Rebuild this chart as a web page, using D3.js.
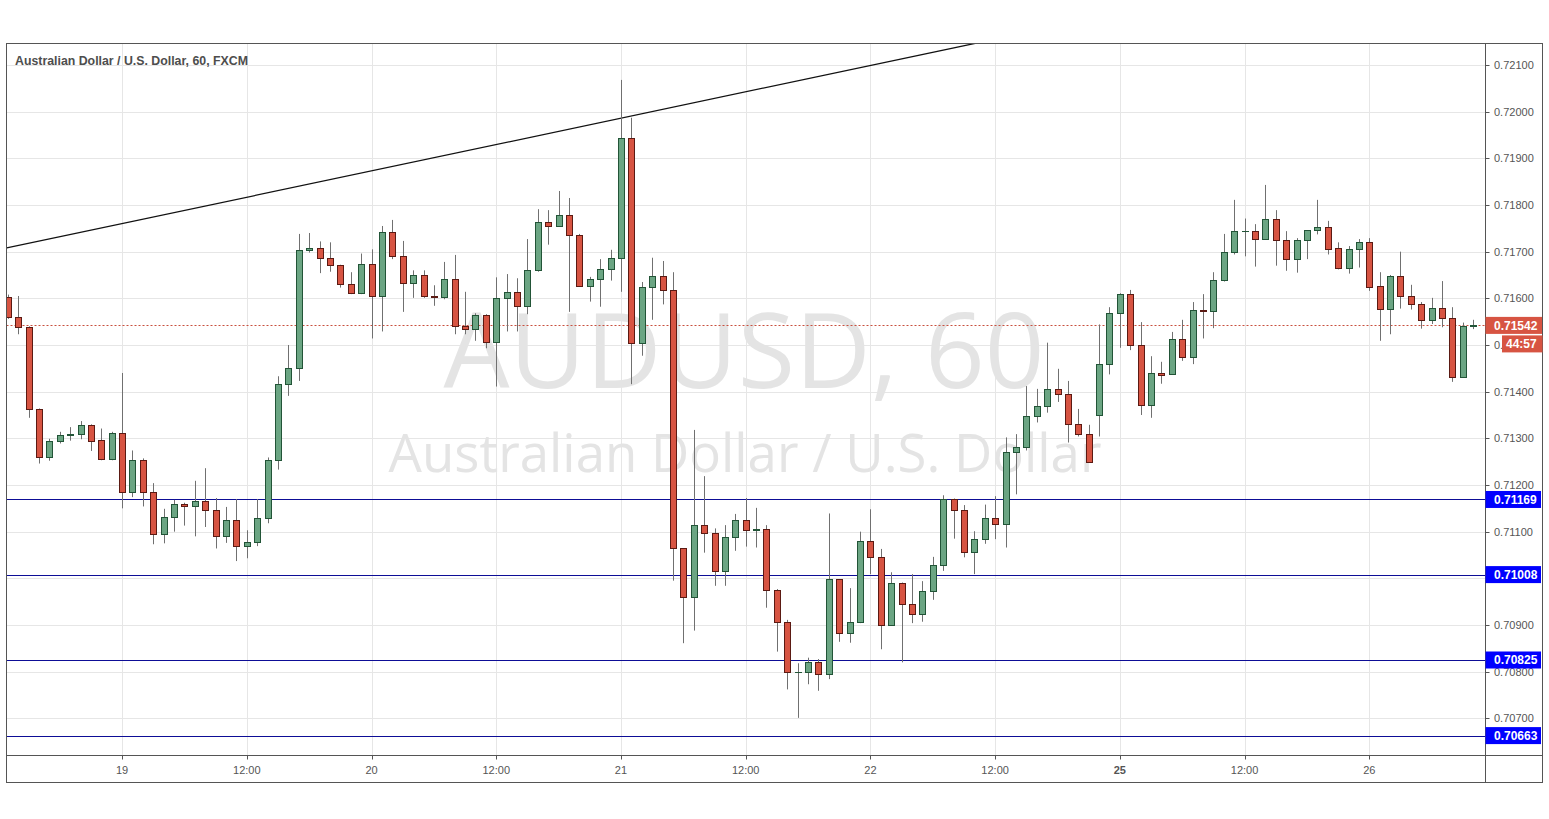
<!DOCTYPE html>
<html>
<head>
<meta charset="utf-8">
<script src="https://cdn.jsdelivr.net/npm/d3@7"></script>
<style>
  html, body { margin: 0; padding: 0; background: #ffffff; }
  svg { display: block; }
</style>
</head>
<body>
<svg id="chart" width="1549" height="819"></svg>
<script>
// ---------------- DATA ----------------
// hourly bars, bar index 0 = "19" 00:00; first bar index is firstBar
const firstBar = -11;
const opens = [
  0.71602,0.71560,0.71539,0.71363,0.71261,0.71294,0.71307,0.71309,0.71329,0.71296,0.71256,
  0.71311,0.71185,0.71253,0.71185,0.71094,0.71131,0.71159,0.71154,0.71165,0.71146,0.71090,0.71125,0.71069,0.71077,0.71129,0.71253,0.71416,0.71450,0.71703,0.71707,
  0.71686,0.71671,0.71630,0.71611,0.71673,0.71604,0.71743,0.71690,0.71632,0.71650,0.71606,0.71602,0.71641,0.71541,0.71534,0.71564,0.71506,0.71600,0.71613,0.71583,
  0.71660,0.71763,0.71756,0.71778,0.71736,0.71626,0.71641,0.71662,0.71686,0.71943,0.71504,0.71624,0.71647,0.71617,0.71064,0.70961,0.71114,0.71098,0.71016,0.71088,
  0.71126,0.71103,0.71105,0.70975,0.70906,0.70799,0.70800,0.70820,0.70796,0.70998,0.70882,0.70906,0.71081,0.71045,0.70901,0.70991,0.70944,0.70923,0.70972,0.71028,
  0.71171,0.71146,0.71056,0.71084,0.71129,0.71116,0.71271,0.71282,0.71347,0.71369,0.71405,0.71396,0.71331,0.71309,0.71349,0.71459,0.71568,0.71609,0.71499,0.71371,
  0.71439,0.71437,0.71512,0.71474,0.71576,0.71572,0.71639,0.71699,0.71744,0.71744,0.71728,0.71771,0.71726,0.71685,0.71724,0.71746,0.71752,0.71707,0.71664,0.71705,
  0.71720,0.71626,0.71578,0.71647,0.71604,0.71587,0.71553,0.71579,0.71557,0.71431,0.71541
];
const highs = [
  0.71608,0.71605,0.71540,0.71364,0.71299,0.71314,0.71324,0.71337,0.71330,0.71321,0.71314,
  0.71440,0.71274,0.71257,0.71204,0.71149,0.71168,0.71162,0.71209,0.71236,0.71172,0.71153,0.71170,0.71103,0.71170,0.71259,0.71433,0.71500,0.71738,0.71740,0.71722,
  0.71720,0.71672,0.71656,0.71696,0.71705,0.71755,0.71768,0.71723,0.71660,0.71660,0.71628,0.71678,0.71693,0.71614,0.71568,0.71566,0.71645,0.71652,0.71643,0.71727,
  0.71791,0.71789,0.71830,0.71815,0.71738,0.71646,0.71684,0.71704,0.72068,0.71987,0.71635,0.71687,0.71680,0.71656,0.71064,0.71318,0.71219,0.71107,0.71114,0.71138,
  0.71172,0.71151,0.71114,0.70977,0.70911,0.70818,0.70830,0.70827,0.71139,0.70998,0.70979,0.71100,0.71148,0.71063,0.71013,0.70991,0.71009,0.70994,0.71046,0.71178,
  0.71171,0.71157,0.71101,0.71158,0.71176,0.71302,0.71309,0.71412,0.71406,0.71505,0.71449,0.71423,0.71363,0.71329,0.71544,0.71581,0.71611,0.71618,0.71549,0.71476,
  0.71464,0.71528,0.71554,0.71592,0.71609,0.71656,0.71738,0.71811,0.71771,0.71759,0.71843,0.71789,0.71744,0.71729,0.71746,0.71811,0.71766,0.71720,0.71712,0.71727,
  0.71729,0.71656,0.71650,0.71700,0.71629,0.71592,0.71601,0.71637,0.71581,0.71548,0.71554
];
const lows = [
  0.71556,0.71523,0.71344,0.71246,0.71252,0.71289,0.71295,0.71298,0.71273,0.71253,0.71253,
  0.71150,0.71174,0.71154,0.71073,0.71075,0.71100,0.71113,0.71090,0.71110,0.71064,0.71076,0.71037,0.71043,0.71069,0.71118,0.71233,0.71391,0.71423,0.71698,0.71654,
  0.71657,0.71623,0.71609,0.71609,0.71514,0.71529,0.71684,0.71571,0.71601,0.71601,0.71584,0.71598,0.71523,0.71523,0.71509,0.71493,0.71411,0.71529,0.71529,0.71566,
  0.71657,0.71715,0.71756,0.71571,0.71626,0.71593,0.71582,0.71638,0.71614,0.71416,0.71477,0.71554,0.71587,0.70995,0.70861,0.70888,0.71055,0.70984,0.70984,0.71059,
  0.71068,0.71066,0.70937,0.70843,0.70762,0.70701,0.70773,0.70759,0.70784,0.70864,0.70862,0.70904,0.71009,0.70848,0.70898,0.70820,0.70904,0.70907,0.70954,0.71016,
  0.71085,0.71045,0.71009,0.71074,0.71084,0.71066,0.71180,0.71274,0.71334,0.71355,0.71378,0.71291,0.71304,0.71249,0.71304,0.71437,0.71494,0.71489,0.71350,0.71344,
  0.71417,0.71436,0.71466,0.71459,0.71514,0.71536,0.71636,0.71694,0.71690,0.71668,0.71727,0.71670,0.71659,0.71655,0.71684,0.71737,0.71694,0.71662,0.71653,0.71666,
  0.71616,0.71509,0.71523,0.71578,0.71576,0.71535,0.71545,0.71538,0.71421,0.71430,0.71534
];
const closes = [
  0.71560,0.71539,0.71363,0.71261,0.71294,0.71307,0.71310,0.71329,0.71295,0.71256,0.71311,
  0.71185,0.71253,0.71185,0.71094,0.71131,0.71159,0.71154,0.71165,0.71146,0.71090,0.71125,0.71069,0.71077,0.71129,0.71253,0.71416,0.71450,0.71703,0.71707,0.71686,
  0.71671,0.71630,0.71611,0.71673,0.71604,0.71743,0.71690,0.71632,0.71650,0.71606,0.71602,0.71641,0.71541,0.71534,0.71564,0.71506,0.71600,0.71613,0.71583,0.71660,
  0.71763,0.71756,0.71778,0.71736,0.71626,0.71641,0.71662,0.71686,0.71943,0.71504,0.71624,0.71647,0.71617,0.71064,0.70961,0.71114,0.71098,0.71016,0.71088,0.71126,
  0.71103,0.71105,0.70974,0.70906,0.70799,0.70800,0.70820,0.70796,0.70998,0.70882,0.70906,0.71081,0.71045,0.70901,0.70991,0.70944,0.70923,0.70972,0.71028,0.71171,
  0.71146,0.71056,0.71084,0.71129,0.71116,0.71271,0.71282,0.71347,0.71369,0.71405,0.71396,0.71331,0.71309,0.71249,0.71459,0.71568,0.71609,0.71499,0.71371,0.71439,
  0.71436,0.71512,0.71474,0.71576,0.71572,0.71639,0.71699,0.71744,0.71745,0.71728,0.71771,0.71726,0.71685,0.71725,0.71746,0.71752,0.71706,0.71664,0.71705,0.71720,
  0.71625,0.71578,0.71647,0.71604,0.71587,0.71553,0.71579,0.71557,0.71431,0.71541,0.71542
];

const priceTicks = [0.707,0.708,0.709,0.710,0.711,0.712,0.713,0.714,0.715,0.716,0.717,0.718,0.719,0.720,0.721];
const timeTickBars = [0,12,24,36,48,60,72,84,96,108,120];
const timeTickLabels = ["19","12:00","20","12:00","21","12:00","22","12:00","25","12:00","26"];
const timeTickBold = [false,false,false,false,false,false,false,false,true,false,false];

const levelPrices = [0.71169,0.71008,0.70825,0.70663];
const lastPrice = 0.71542;
const countdown = "44:57";
const trendBars = [-11.1, 82.2];
const trendPrices = [0.71708, 0.72147];

const titleText = "Australian Dollar / U.S. Dollar, 60, FXCM";
const wmSymbol = "AUDUSD, 60";
const wmName = "Australian Dollar / U.S. Dollar";

// ---------------- LAYOUT ----------------
const W = 1549, H = 819;
const frame = {l: 6.5, t: 43.5, r: 1542.5, b: 782.5};
const plot = {l: 6.5, t: 43.5, r: 1485.5, b: 755.5};
const AX = "'Liberation Sans', Arial, sans-serif";

const x = d3.scaleLinear().domain([0, 120]).range([122.1, 1369.3]);
const y = d3.scaleLinear().domain([0.707, 0.721]).range([718.33, 65]);

const svg = d3.select("#chart");
svg.append("rect").attr("width", W).attr("height", H).attr("fill", "#ffffff");

const defs = svg.append("defs");
defs.append("clipPath").attr("id", "plotclip")
  .append("rect").attr("x", plot.l).attr("y", plot.t)
  .attr("width", plot.r - plot.l).attr("height", plot.b - plot.t);
defs.append("clipPath").attr("id", "cdclip")
  .append("rect").attr("x", plot.r).attr("y", 0)
  .attr("width", 1502 - plot.r).attr("height", H);

const gPlot = svg.append("g").attr("clip-path", "url(#plotclip)");

// grid
const px = v => Math.round(v) + 0.5;
gPlot.selectAll("line.hgrid").data(priceTicks).join("line")
  .attr("x1", plot.l).attr("x2", plot.r)
  .attr("y1", d => px(y(d))).attr("y2", d => px(y(d)))
  .attr("stroke", "#e6e6e6").attr("stroke-width", 1);
gPlot.selectAll("line.vgrid").data(timeTickBars).join("line")
  .attr("x1", d => px(x(d))).attr("x2", d => px(x(d)))
  .attr("y1", plot.t).attr("y2", plot.b)
  .attr("stroke", "#e6e6e6").attr("stroke-width", 1);

// watermark
const cxPlot = (plot.l + plot.r) / 2;
function fitText(sel, target) {
  const w = sel.node().getComputedTextLength();
  const fs = parseFloat(sel.attr("font-size"));
  if (w > 0) sel.attr("font-size", fs * target / w);
}
const wm1 = gPlot.append("text").text(wmSymbol)
  .attr("x", cxPlot - 2).attr("y", 388).attr("text-anchor", "middle")
  .attr("font-family", "'Open Sans', 'Noto Sans', sans-serif").attr("font-size", 100)
  .attr("fill", "#e4e4e4");
fitText(wm1, 601);
const wm2 = gPlot.append("text").text(wmName)
  .attr("x", cxPlot - 1).attr("y", 471.5).attr("text-anchor", "middle")
  .attr("font-family", "'Open Sans', 'Noto Sans', sans-serif").attr("font-size", 48)
  .attr("fill", "#e4e4e4");
fitText(wm2, 713);

// levels
gPlot.selectAll("line.level").data(levelPrices).join("line")
  .attr("x1", plot.l).attr("x2", plot.r)
  .attr("y1", d => px(y(d))).attr("y2", d => px(y(d)))
  .attr("stroke", "#0d0d96").attr("stroke-width", 1);

// last price dotted line
gPlot.append("line")
  .attr("x1", plot.l).attr("x2", plot.r)
  .attr("y1", px(y(lastPrice))).attr("y2", px(y(lastPrice)))
  .attr("stroke", "#c8503f").attr("stroke-width", 1).attr("stroke-dasharray", "2,2");

// trend line
gPlot.append("line")
  .attr("x1", x(trendBars[0])).attr("y1", y(trendPrices[0]))
  .attr("x2", x(trendBars[1])).attr("y2", y(trendPrices[1]))
  .attr("stroke", "#111111").attr("stroke-width", 1.2);

// candles
const bars = opens.map((o, k) => ({
  i: firstBar + k, o, h: highs[k], l: lows[k], c: closes[k]
}));
const up = d => d.c >= d.o;
gPlot.selectAll("line.wick").data(bars).join("line")
  .attr("x1", d => px(x(d.i))).attr("x2", d => px(x(d.i)))
  .attr("y1", d => y(d.h)).attr("y2", d => y(d.l))
  .attr("stroke", "#707070").attr("stroke-width", 1);
gPlot.selectAll("rect.body").data(bars).join("rect")
  .attr("x", d => Math.round(x(d.i)) - 3 + 0.5)
  .attr("width", 6)
  .attr("y", d => Math.round(y(Math.max(d.o, d.c))) + 0.5)
  .attr("height", d => Math.max(0.01, Math.round(y(Math.min(d.o, d.c))) - Math.round(y(Math.max(d.o, d.c)))))
  .attr("fill", d => up(d) ? "#6ba583" : "#d75442")
  .attr("stroke", d => up(d) ? "#225437" : "#5b1a13")
  .attr("stroke-width", 1);

// title
const title = svg.append("text").text(titleText)
  .attr("x", 15).attr("y", 65)
  .attr("font-family", AX).attr("font-size", 12).attr("font-weight", "bold")
  .attr("fill", "#4d4d4d");
fitText(title, 233);

// frame
svg.append("rect").attr("x", frame.l).attr("y", frame.t)
  .attr("width", frame.r - frame.l).attr("height", frame.b - frame.t)
  .attr("fill", "none").attr("stroke", "#555555").attr("stroke-width", 1);
svg.append("line").attr("x1", frame.l).attr("x2", frame.r)
  .attr("y1", plot.b).attr("y2", plot.b).attr("stroke", "#555555");
svg.append("line").attr("x1", plot.r).attr("x2", plot.r)
  .attr("y1", frame.t).attr("y2", frame.b).attr("stroke", "#555555");

// price axis (tick labels fully hidden under a level label are not drawn)
const hiddenUnder = d => levelPrices.some(p => Math.abs(y(p) - y(d)) < 6);
const cdY = y(lastPrice) + 10;
const underCountdown = d => y(d) > cdY - 4 && y(d) < cdY + 21;
const yAxisG = svg.append("g");
yAxisG.selectAll("line.ptick").data(priceTicks).join("line")
  .attr("x1", plot.r).attr("x2", plot.r + 4)
  .attr("y1", d => px(y(d))).attr("y2", d => px(y(d)))
  .attr("stroke", "#555555");
yAxisG.selectAll("text.plabel").data(priceTicks.filter(d => !hiddenUnder(d))).join("text")
  .attr("x", 1494).attr("y", d => y(d) + 4)
  .attr("font-family", AX).attr("font-size", 11).attr("fill", "#555555")
  .attr("clip-path", d => underCountdown(d) ? "url(#cdclip)" : null)
  .text(d => d3.format(".5f")(d));

// time axis
const xAxisG = svg.append("g");
xAxisG.selectAll("line.ttick").data(timeTickBars).join("line")
  .attr("x1", d => px(x(d))).attr("x2", d => px(x(d)))
  .attr("y1", plot.b).attr("y2", plot.b + 4)
  .attr("stroke", "#555555");
xAxisG.selectAll("text.tlabel").data(timeTickBars).join("text")
  .attr("x", d => x(d)).attr("y", 774)
  .attr("text-anchor", "middle")
  .attr("font-family", AX).attr("font-size", 11)
  .attr("font-weight", (d, k) => timeTickBold[k] ? "bold" : "normal")
  .attr("fill", "#555555")
  .text((d, k) => timeTickLabels[k]);

// level labels
const lab = svg.append("g");
levelPrices.forEach(p => {
  const cy = y(p);
  lab.append("rect").attr("x", plot.r).attr("y", cy - 8.5).attr("width", 55.5).attr("height", 17)
    .attr("fill", "#0000ff");
  lab.append("text").attr("x", 1494).attr("y", cy + 4.5)
    .attr("font-family", AX).attr("font-size", 12).attr("font-weight", "bold")
    .attr("fill", "#ffffff").text(d3.format(".5f")(p));
});
// last price label + countdown
{
  const cy = y(lastPrice);
  lab.append("rect").attr("x", plot.r).attr("y", cy - 8.5).attr("width", 56.5).attr("height", 17)
    .attr("fill", "#d75442");
  lab.append("text").attr("x", 1494).attr("y", cy + 4.5)
    .attr("font-family", AX).attr("font-size", 12).attr("font-weight", "bold")
    .attr("fill", "#ffffff").text(d3.format(".5f")(lastPrice));
  lab.append("rect").attr("x", 1502).attr("y", cdY).attr("width", 40.5).attr("height", 17)
    .attr("fill", "#d75442");
  lab.append("text").attr("x", 1506).attr("y", cdY + 13)
    .attr("font-family", AX).attr("font-size", 12).attr("font-weight", "bold")
    .attr("fill", "#ffffff").text(countdown);
}
</script>
</body>
</html>
